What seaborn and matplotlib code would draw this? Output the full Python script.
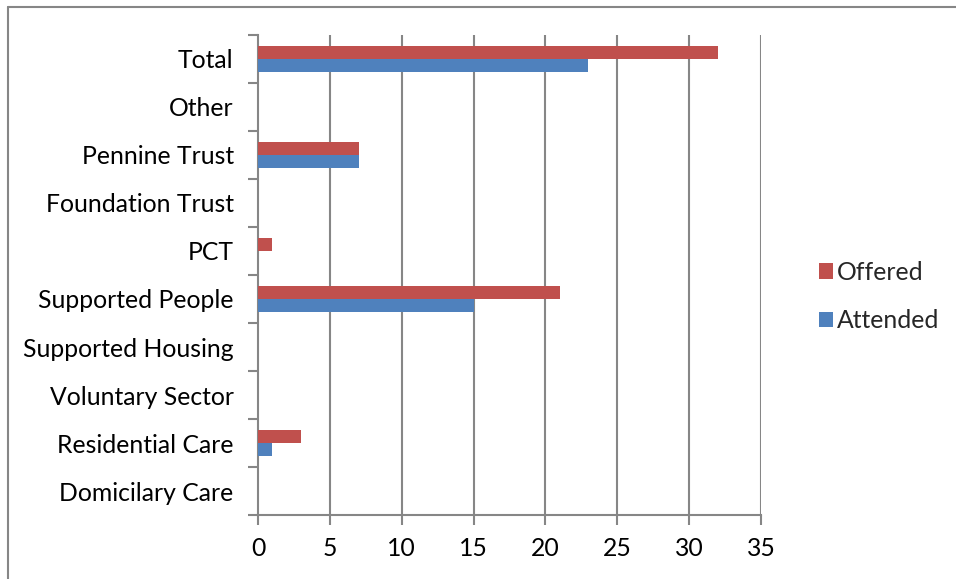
import matplotlib
matplotlib.use("Agg")
import matplotlib.pyplot as plt
from matplotlib.lines import Line2D
from matplotlib.patches import Patch
import seaborn as sns
import pandas as pd
import numpy as np

categories = ["Total", "Other", "Pennine Trust", "Foundation Trust", "PCT",
              "Supported People", "Supported Housing", "Voluntary Sector",
              "Residential Care", "Domicilary Care"]
offered = [32, 0, 7, 0, 1, 21, 0, 0, 3, 0]
attended = [23, 0, 7, 0, 0, 15, 0, 0, 1, 0]
series = ["Offered", "Attended"]
colors = {"Offered": "#C0504D", "Attended": "#4F81BD"}
x_ticks = [0, 5, 10, 15, 20, 25, 30, 35]

df = pd.DataFrame({
    "Category": categories * 2,
    "Series": ["Offered"] * len(categories) + ["Attended"] * len(categories),
    "Value": offered + attended,
})

sns.set_theme(style="white")
plt.rcParams["font.family"] = ["Lato", "DejaVu Sans"]
grid_color = "#868686"
fs = 17.8

fig = plt.figure(figsize=(9.56, 5.79), dpi=100)
ax = fig.add_axes([0.2699, 0.1105, 0.526, 0.8291])

sns.barplot(data=df, y="Category", x="Value", hue="Series",
            order=categories, hue_order=series, palette=colors,
            orient="h", width=0.54, gap=0, linewidth=0, saturation=1,
            legend=False, ax=ax, zorder=3)

ax.set_xlim(0, 35)
ax.set_ylim(len(categories) - 0.5, -0.5)
ax.set_xticks(x_ticks)
ax.set_xticklabels([str(t) for t in x_ticks])
ax.set_xlabel("")
ax.set_ylabel("")

# vertical gridlines
for t in x_ticks[1:]:
    ax.axvline(t, color=grid_color, lw=1.5, zorder=1)

for side in ["top", "right"]:
    ax.spines[side].set_visible(False)
for side in ["left", "bottom"]:
    ax.spines[side].set_color(grid_color)
    ax.spines[side].set_linewidth(1.5)

# category labels centered, tick marks on category boundaries
ax.set_yticks(np.arange(len(categories)))
ax.set_yticklabels(categories)
ax.set_yticks(np.arange(-0.5, len(categories), 1.0), minor=True)
ax.tick_params(axis="y", which="major", length=0, pad=17.5, labelsize=fs,
               labelcolor="black")
ax.tick_params(axis="y", which="minor", length=7, width=1.5,
               color=grid_color, left=True)
ax.tick_params(axis="x", which="major", length=7, width=1.5,
               color=grid_color, bottom=True, pad=9, labelsize=fs,
               labelcolor="black")

handles = [Patch(facecolor=colors[s], edgecolor="none", label=s) for s in series]
fig.legend(handles=handles, loc="center left", bbox_to_anchor=(0.846, 0.488),
           frameon=False, fontsize=fs, handlelength=0.6, handleheight=0.6,
           handletextpad=0.15, labelspacing=1.04, borderaxespad=0)

# chart frame edges
fig.add_artist(Line2D([8 / 956, 1.0], [1 - 7 / 579, 1 - 7 / 579],
                      transform=fig.transFigure, color=grid_color, lw=1.5))
fig.add_artist(Line2D([8 / 956, 8 / 956], [0, 1 - 7 / 579],
                      transform=fig.transFigure, color=grid_color, lw=1.5))

fig.savefig("out.png", dpi=100, facecolor="white")
